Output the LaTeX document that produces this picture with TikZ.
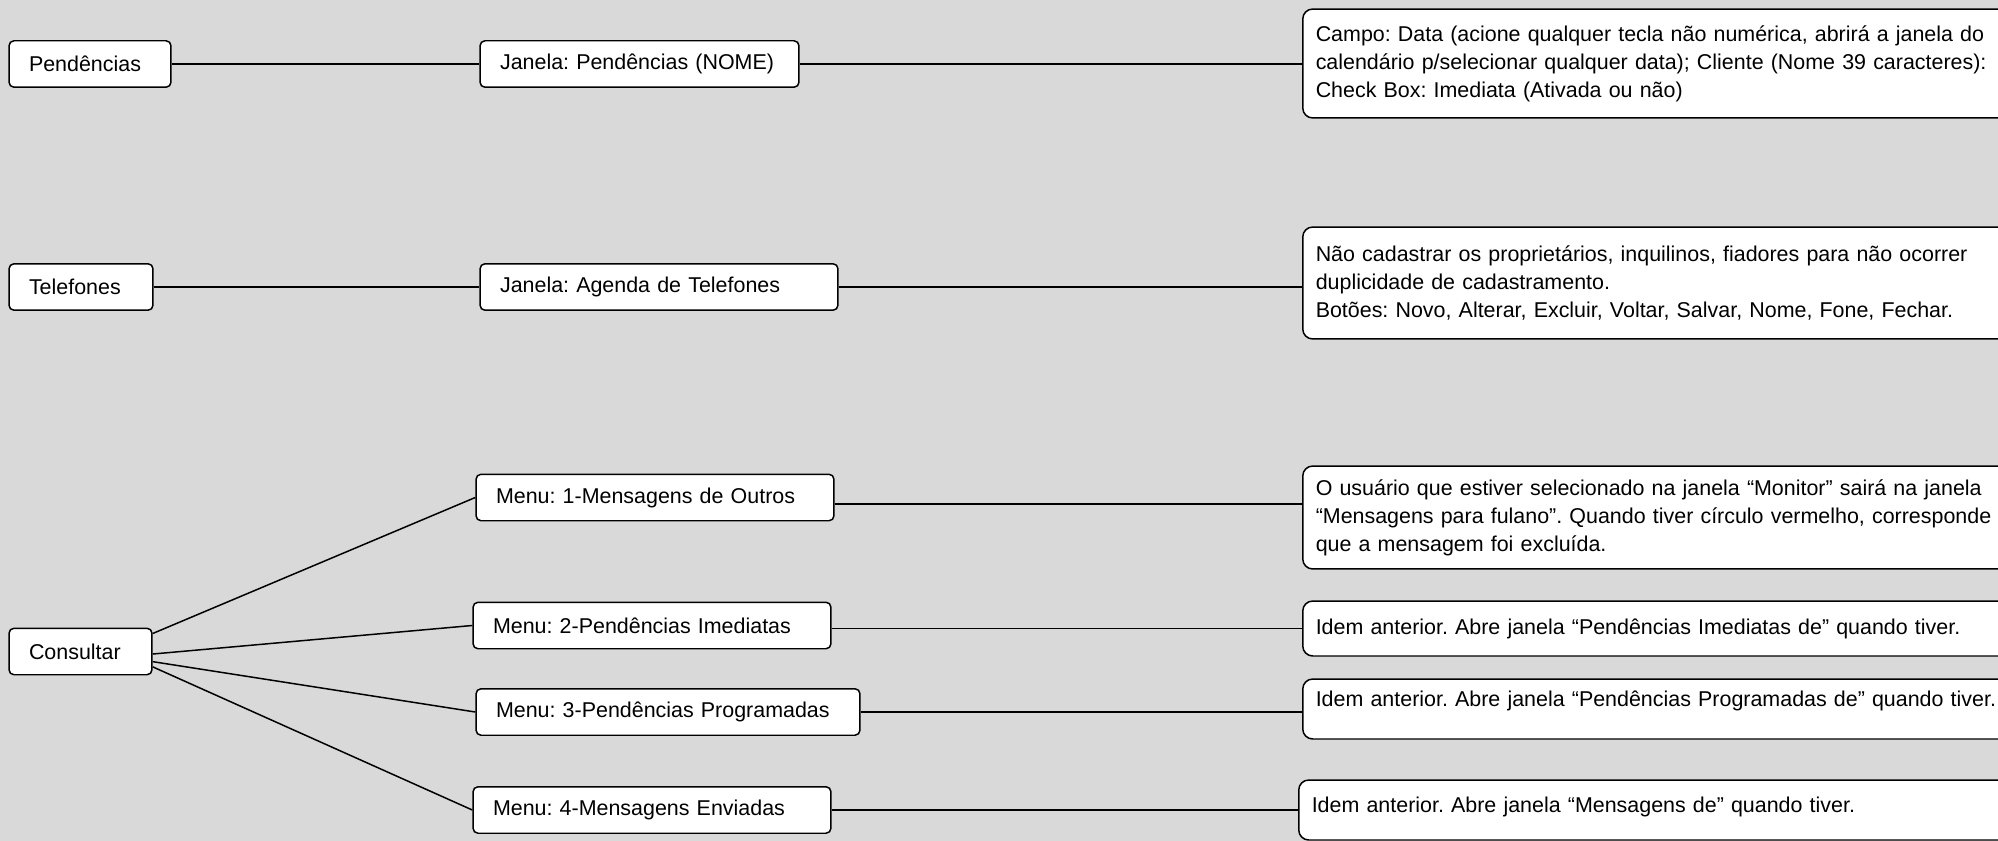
\documentclass[tikz,border=0pt]{standalone}
\usepackage{fontspec}
\setmainfont{Liberation Sans}
\frenchspacing
\definecolor{fundo}{RGB}{217,217,217}
\tikzset{
  caixa/.style={draw, fill=white, rounded corners=0.1cm, line width=0.85pt,
    inner xsep=0.4cm, align=left, minimum height=0.93cm, text width=#1},
  nota/.style={draw, fill=white, rounded corners=0.2cm, line width=0.85pt,
    inner xsep=0.26cm, align=left, anchor=west, text width=14cm, minimum height=#1},
  liga/.style={line width=0.85pt}
}
\begin{document}
\begin{tikzpicture}[x=0.02cm, y=-0.02cm, font=\fontsize{12.2}{15.9}\selectfont]
      \clip (0,0) rectangle (1998,841);
      \fill[fundo] (0,0) rectangle (1998,841);
      % primeira coluna
      \node[caixa=2.44cm] (pend) at (90,64) {Pendências};
      \node[caixa=2.08cm] (tel) at (81,287) {Telefones};
      \node[caixa=2.06cm] (cons) at (80.5,651.5) {Consultar};
      % janelas e menus
      \node[caixa=5.58cm] (jpend) at (639.5,64) {Janela: Pendências (NOME)};
      \node[caixa=6.36cm] (jtel) at (659,287) {Janela: Agenda de Telefones};
      \node[caixa=6.36cm] (m1) at (655,497.5) {Menu: 1-Mensagens de Outros};
      \node[caixa=6.36cm] (m2) at (652,625.5) {Menu: 2-Pendências Imediatas};
      \node[caixa=6.88cm] (m3) at (668,712) {Menu: 3-Pendências Programadas};
      \node[caixa=6.36cm] (m4) at (652,810) {Menu: 4-Mensagens Enviadas};
      % notas
      \node[nota=2.18cm] (campo) at (1302,63.5) {Campo: Data (acione qualquer tecla não numérica, abrirá a janela do\\
        calendário p/selecionar qualquer data); Cliente (Nome 39 caracteres):\\
        Check Box: Imediata (Ativada ou não)};
      \node[nota=2.24cm] (nao) at (1302,283) {Não cadastrar os proprietários, inquilinos, fiadores para não ocorrer\\
        duplicidade de cadastramento.\\
        Botões: Novo, Alterar, Excluir, Voltar, Salvar, Nome, Fone, Fechar.};
      \node[nota=2.06cm] (usu) at (1302,517.5) {O usuário que estiver selecionado na janela “Monitor” sairá na janela\\
        “Mensagens para fulano”. Quando tiver círculo vermelho, corresponde\\
        que a mensagem foi excluída.};
      \node[nota=1.1cm] (i2) at (1302,628.5) {Idem anterior. Abre janela “Pendências Imediatas de” quando tiver.};
      \node[nota=1.2cm, text depth=0.4cm] (i3) at (1302,709) {Idem anterior. Abre janela “Pendências Programadas de” quando tiver.};
      \node[nota=1.2cm, text depth=0.2cm] (i4) at (1298,810) {Idem anterior. Abre janela “Mensagens de” quando tiver.};
      \begin{scope}[liga]
        \draw (pend) -- (jpend);
        \draw (tel) -- (jtel);
        \draw (cons.14) -- (m1.west);
        \draw (cons.-2) -- (m2.west);
        \draw (cons.-8) -- (m3.west);
        \draw (cons.-12) -- (m4.west);
        \draw (jpend.east) -- (jpend.east -| campo.west);
        \draw (jtel.east) -- (jtel.east -| nao.west);
        \draw (m1.-2) -- (m1.-2 -| usu.west);
        \draw (m2.-1) -- (m2.-1 -| i2.west);
        \draw (m3.east) -- (m3.east -| i3.west);
        \draw (m4.east) -- (m4.east -| i4.west);
      \end{scope}
    \end{tikzpicture}
\end{document}
